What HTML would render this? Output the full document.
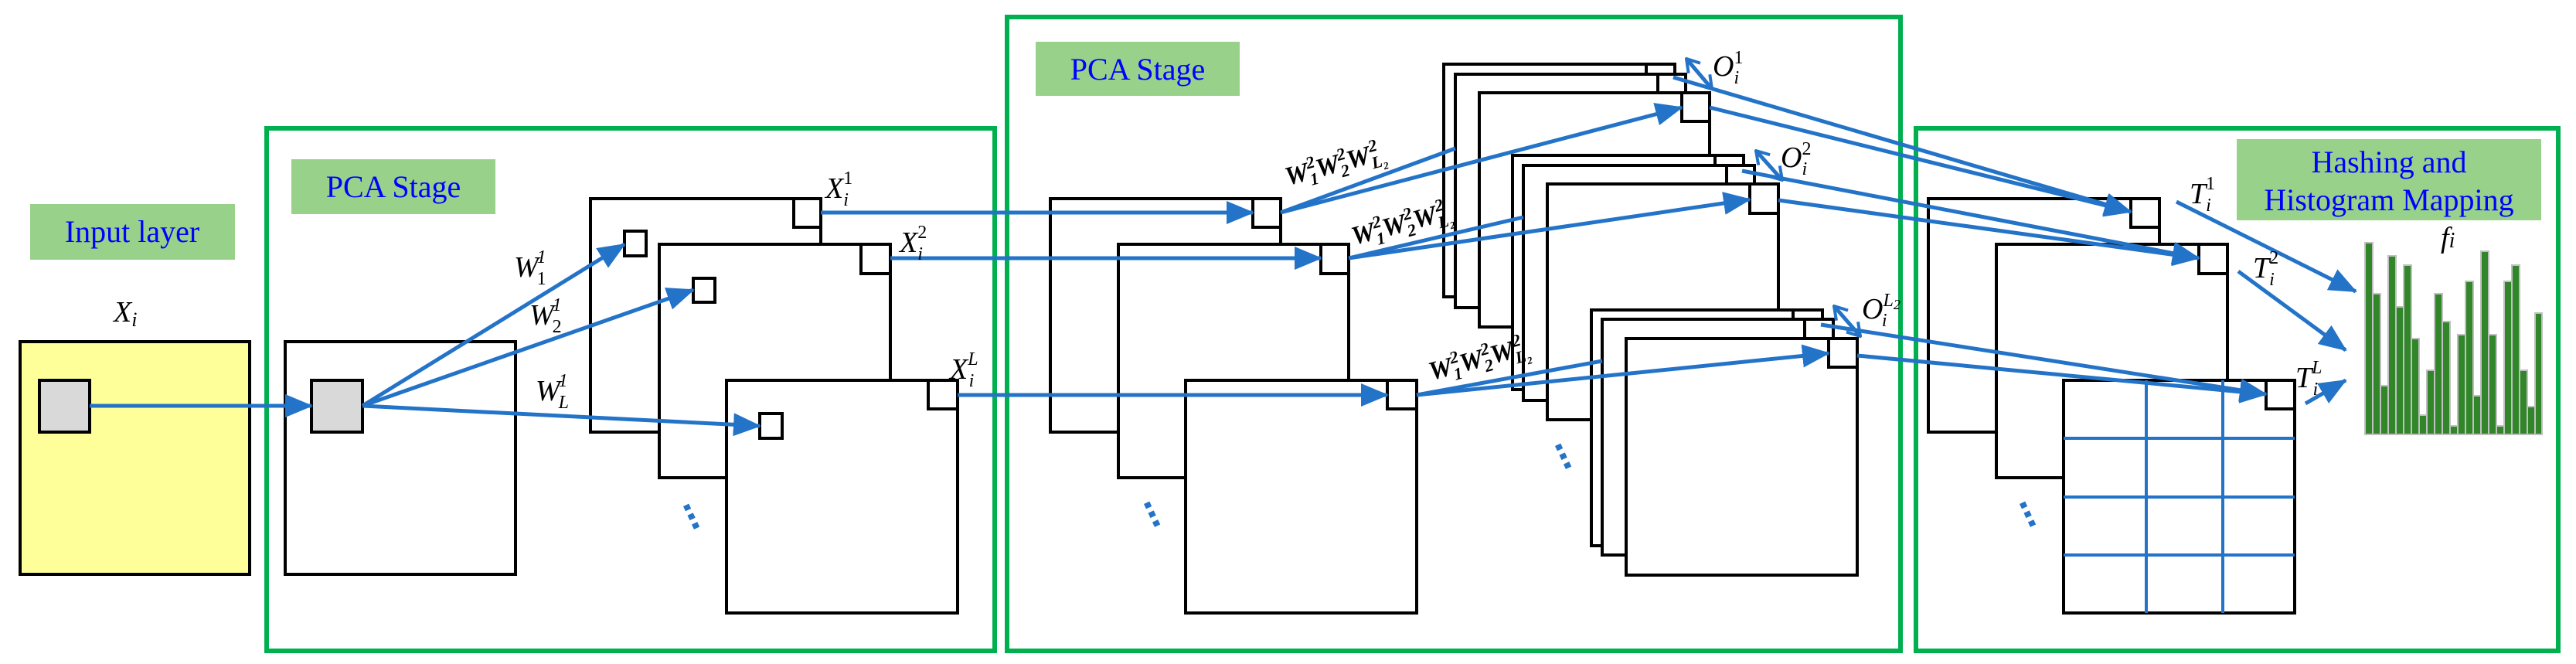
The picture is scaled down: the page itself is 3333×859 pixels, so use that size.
<!DOCTYPE html>
<html><head><meta charset="utf-8"><style>html,body{margin:0;padding:0;background:#fff}svg{display:block}svg text{font-family:"Liberation Serif",serif}</style></head><body>
<svg width="3333" height="859" viewBox="0 0 3333 859" xmlns="http://www.w3.org/2000/svg" font-family="Liberation Serif, serif">
<defs>
<marker id="ah" markerUnits="userSpaceOnUse" markerWidth="36" markerHeight="30" refX="34" refY="15" orient="auto"><path d="M0,0 L36,15 L0,30 z" fill="#2373c8"/></marker>
<marker id="oh" markerUnits="userSpaceOnUse" markerWidth="20" markerHeight="24" refX="18" refY="12" orient="auto"><path d="M2,2 L18,12 L2,22" fill="none" stroke="#2373c8" stroke-width="4"/></marker>
<marker id="ohs" markerUnits="userSpaceOnUse" markerWidth="20" markerHeight="24" refX="18" refY="12" orient="auto-start-reverse"><path d="M2,2 L18,12 L2,22" fill="none" stroke="#2373c8" stroke-width="4"/></marker>
</defs>
<g fill="none" stroke="#00b04f" stroke-width="6">
<rect x="345" y="166" width="942" height="676"/>
<rect x="1303" y="22" width="1156" height="820"/>
<rect x="2479" y="166" width="831" height="676"/>
</g>
<rect x="39" y="264" width="265" height="72" fill="#98d28a"/>
<text x="171" y="313" font-size="40" fill="#0000ff" text-anchor="middle">Input layer</text>
<rect x="377" y="206" width="264" height="71" fill="#98d28a"/>
<text x="509" y="255" font-size="40" fill="#0000ff" text-anchor="middle">PCA Stage</text>
<rect x="1340" y="54" width="264" height="70" fill="#98d28a"/>
<text x="1472" y="103" font-size="40" fill="#0000ff" text-anchor="middle">PCA Stage</text>
<rect x="2894" y="180" width="394" height="105" fill="#98d28a"/>
<text x="3091" y="223" font-size="40" fill="#0000ff" text-anchor="middle">Hashing and</text>
<text x="3091" y="272" font-size="40" fill="#0000ff" text-anchor="middle">Histogram Mapping</text>

<g stroke="#000" stroke-width="4" fill="#fff">
<rect x="26" y="442" width="297" height="301" fill="#ffff99"/>
<rect x="51" y="492" width="65" height="67" fill="#d9d9d9"/>
<rect x="369" y="442" width="298" height="301"/>
<rect x="403" y="492" width="66" height="67" fill="#d9d9d9"/>
<rect x="764" y="257" width="298" height="302"/><rect x="1027" y="257" width="35" height="37"/>
<rect x="853" y="316" width="299" height="302"/><rect x="1114" y="316" width="38" height="38"/>
<rect x="940" y="492" width="299" height="301"/><rect x="1201" y="492" width="38" height="37"/>
<rect x="808" y="299" width="28" height="32"/>
<rect x="897" y="360" width="28" height="31"/>
<rect x="983" y="535" width="29" height="32"/>
<rect x="1359" y="257" width="298" height="302"/><rect x="1621" y="257" width="36" height="37"/>
<rect x="1447" y="316" width="298" height="302"/><rect x="1709" y="316" width="36" height="38"/>
<rect x="1534" y="492" width="299" height="301"/><rect x="1795" y="492" width="38" height="37"/>
<rect x="1868" y="83" width="299" height="301"/><rect x="2130" y="83" width="37" height="20"/>
<rect x="1883" y="96" width="298" height="302"/><rect x="2145" y="96" width="36" height="30"/>
<rect x="1914" y="120" width="298" height="303"/><rect x="2176" y="120" width="36" height="37"/>
<rect x="1957" y="201" width="299" height="303"/><rect x="2219" y="201" width="37" height="20"/>
<rect x="1971" y="214" width="299" height="304"/><rect x="2234" y="214" width="36" height="30"/>
<rect x="2002" y="238" width="299" height="305"/><rect x="2264" y="238" width="37" height="38"/>
<rect x="2059" y="401" width="299" height="305"/><rect x="2320" y="401" width="38" height="18"/>
<rect x="2073" y="413" width="299" height="305"/><rect x="2335" y="413" width="37" height="28"/>
<rect x="2104" y="438" width="299" height="306"/><rect x="2366" y="438" width="37" height="37"/>
<rect x="2495" y="257" width="299" height="302"/><rect x="2757" y="257" width="37" height="37"/>
<rect x="2583" y="316" width="299" height="302"/><rect x="2845" y="316" width="37" height="38"/>
<rect x="2670" y="492" width="299" height="301"/>
</g>
<g stroke="#2373c8" stroke-width="4">
<line x1="2777" y1="492" x2="2777" y2="793"/><line x1="2876" y1="492" x2="2876" y2="793"/>
<line x1="2670" y1="567" x2="2969" y2="567"/><line x1="2670" y1="643" x2="2969" y2="643"/><line x1="2670" y1="718" x2="2969" y2="718"/>
</g>
<rect x="2932" y="492" width="37" height="37" stroke="#000" stroke-width="4" fill="#fff"/>

<g stroke="#2373c8" stroke-width="5" fill="none">
<line x1="116" y1="525" x2="403" y2="525" marker-end="url(#ah)"/>
<line x1="469" y1="525" x2="808" y2="316" marker-end="url(#ah)"/>
<line x1="469" y1="525" x2="897" y2="375" marker-end="url(#ah)"/>
<line x1="469" y1="525" x2="983" y2="551" marker-end="url(#ah)"/>
<line x1="1062" y1="275" x2="1621" y2="275" marker-end="url(#ah)"/>
<line x1="1152" y1="334" x2="1709" y2="334" marker-end="url(#ah)"/>
<line x1="1239" y1="511" x2="1795" y2="511" marker-end="url(#ah)"/>
<line x1="1657" y1="275" x2="2176" y2="139" marker-end="url(#ah)"/>
<line x1="1657" y1="275" x2="1883" y2="192"/>
<line x1="1745" y1="334" x2="2264" y2="258" marker-end="url(#ah)"/>
<line x1="1745" y1="334" x2="1971" y2="281"/>
<line x1="1833" y1="511" x2="2366" y2="457" marker-end="url(#ah)"/>
<line x1="1833" y1="511" x2="2073" y2="467"/>
<line x1="2165" y1="100" x2="2757" y2="274" marker-end="url(#ah)"/>
<line x1="2212" y1="139" x2="2757" y2="274" marker-end="url(#ah)"/>
<line x1="2254" y1="221" x2="2845" y2="334" marker-end="url(#ah)"/>
<line x1="2301" y1="259" x2="2845" y2="334" marker-end="url(#ah)"/>
<line x1="2356" y1="420" x2="2932" y2="510" marker-end="url(#ah)"/>
<line x1="2403" y1="460" x2="2932" y2="510" marker-end="url(#ah)"/>
<line x1="2816" y1="261" x2="3048" y2="377" marker-end="url(#ah)"/>
<line x1="2896" y1="351" x2="3035" y2="453" marker-end="url(#ah)"/>
<line x1="2983" y1="522" x2="3035" y2="492" marker-end="url(#ah)"/>
<line x1="2182" y1="76" x2="2215" y2="115" marker-start="url(#ohs)" marker-end="url(#oh)"/>
<line x1="2272" y1="195" x2="2306" y2="233" marker-start="url(#ohs)" marker-end="url(#oh)"/>
<line x1="2373" y1="396" x2="2407" y2="435" marker-start="url(#ohs)" marker-end="url(#oh)"/>
</g>
<g fill="#2373c8">
<g transform="translate(884,655) rotate(-25)"><rect x="0" y="0" width="8" height="7"/><rect x="0" y="13" width="8" height="7"/><rect x="0" y="26" width="8" height="7"/></g>
<g transform="translate(1480,652) rotate(-25)"><rect x="0" y="0" width="8" height="7"/><rect x="0" y="13" width="8" height="7"/><rect x="0" y="26" width="8" height="7"/></g>
<g transform="translate(2012,577) rotate(-25)"><rect x="0" y="0" width="8" height="7"/><rect x="0" y="13" width="8" height="7"/><rect x="0" y="26" width="8" height="7"/></g>
<g transform="translate(2613,652) rotate(-25)"><rect x="0" y="0" width="8" height="7"/><rect x="0" y="13" width="8" height="7"/><rect x="0" y="26" width="8" height="7"/></g>
</g>

<g font-style="italic" fill="#000" font-size="38">
<text x="147" y="416">X<tspan font-size="26" dy="6">i</tspan></text>
<text x="665" y="358">W<tspan font-size="24" dx="-2" dy="-18">1</tspan><tspan font-size="24" font-style="normal" dx="-12" dy="28">1</tspan></text>
<text x="685" y="420">W<tspan font-size="24" dx="-2" dy="-18">1</tspan><tspan font-size="24" font-style="normal" dx="-12" dy="28">2</tspan></text>
<text x="693" y="518">W<tspan font-size="24" dx="-2" dy="-18">1</tspan><tspan font-size="24" dx="-12" dy="28">L</tspan></text>
<text x="1068" y="256">X<tspan font-size="24" font-style="normal" dy="-18">1</tspan><tspan font-size="24" dx="-12" dy="28">i</tspan></text>
<text x="1164" y="326">X<tspan font-size="24" font-style="normal" dy="-18">2</tspan><tspan font-size="24" dx="-12" dy="28">i</tspan></text>
<text x="1229" y="490">X<tspan font-size="24" dy="-18">L</tspan><tspan font-size="24" dx="-12" dy="28">i</tspan></text>
<text x="2216" y="98">O<tspan font-size="24" font-style="normal" dy="-16">1</tspan><tspan font-size="24" dx="-12" dy="26">i</tspan></text>
<text x="2304" y="216">O<tspan font-size="24" font-style="normal" dy="-16">2</tspan><tspan font-size="24" dx="-12" dy="26">i</tspan></text>
<text x="2409" y="412">O<tspan font-size="24" dy="-16">L</tspan><tspan font-size="18" dy="4">2</tspan><tspan font-size="24" dx="-24" dy="22">i</tspan></text>
<text x="2833" y="263">T<tspan font-size="24" font-style="normal" dy="-18">1</tspan><tspan font-size="24" dx="-12" dy="28">i</tspan></text>
<text x="2915" y="359">T<tspan font-size="24" font-style="normal" dy="-18">2</tspan><tspan font-size="24" dx="-12" dy="28">i</tspan></text>
<text x="2970" y="501">T<tspan font-size="24" dy="-18">L</tspan><tspan font-size="24" dx="-12" dy="28">i</tspan></text>
<text x="3158" y="320">f<tspan font-size="28">i</tspan></text>
</g>
<g font-style="italic" font-weight="bold" fill="#000" font-size="34">
<text transform="translate(1666,240) rotate(-15)">W<tspan font-size="22" dy="8">1</tspan><tspan font-size="22" dx="-11" dy="-22">2</tspan><tspan dy="14">W</tspan><tspan font-size="22" dy="8">2</tspan><tspan font-size="22" dx="-11" dy="-22">2</tspan><tspan dy="14">W</tspan><tspan font-size="22" dy="8">L₂</tspan><tspan font-size="22" dx="-20" dy="-22">2</tspan></text>
<text transform="translate(1752,317) rotate(-15)">W<tspan font-size="22" dy="8">1</tspan><tspan font-size="22" dx="-11" dy="-22">2</tspan><tspan dy="14">W</tspan><tspan font-size="22" dy="8">2</tspan><tspan font-size="22" dx="-11" dy="-22">2</tspan><tspan dy="14">W</tspan><tspan font-size="22" dy="8">L₂</tspan><tspan font-size="22" dx="-20" dy="-22">2</tspan></text>
<text transform="translate(1852,492) rotate(-15)">W<tspan font-size="22" dy="8">1</tspan><tspan font-size="22" dx="-11" dy="-22">2</tspan><tspan dy="14">W</tspan><tspan font-size="22" dy="8">2</tspan><tspan font-size="22" dx="-11" dy="-22">2</tspan><tspan dy="14">W</tspan><tspan font-size="22" dy="8">L₂</tspan><tspan font-size="22" dx="-20" dy="-22">2</tspan></text>
</g>

<g fill="#31862a" stroke="#c0c0c0" stroke-width="2">
<rect x="3060" y="314" width="10" height="248"/>
<rect x="3070" y="380" width="10" height="182"/>
<rect x="3080" y="499" width="10" height="63"/>
<rect x="3090" y="331" width="10" height="231"/>
<rect x="3100" y="397" width="10" height="165"/>
<rect x="3110" y="343" width="10" height="219"/>
<rect x="3120" y="438" width="10" height="124"/>
<rect x="3130" y="537" width="10" height="25"/>
<rect x="3140" y="479" width="10" height="83"/>
<rect x="3150" y="380" width="10" height="182"/>
<rect x="3160" y="416" width="10" height="146"/>
<rect x="3170" y="551" width="10" height="11"/>
<rect x="3180" y="433" width="10" height="129"/>
<rect x="3190" y="364" width="10" height="198"/>
<rect x="3200" y="512" width="10" height="50"/>
<rect x="3210" y="325" width="10" height="237"/>
<rect x="3220" y="433" width="10" height="129"/>
<rect x="3230" y="551" width="10" height="11"/>
<rect x="3240" y="364" width="10" height="198"/>
<rect x="3250" y="343" width="10" height="219"/>
<rect x="3260" y="479" width="10" height="83"/>
<rect x="3270" y="526" width="10" height="36"/>
<rect x="3280" y="405" width="9" height="157"/>
</g>
</svg>
</body></html>
